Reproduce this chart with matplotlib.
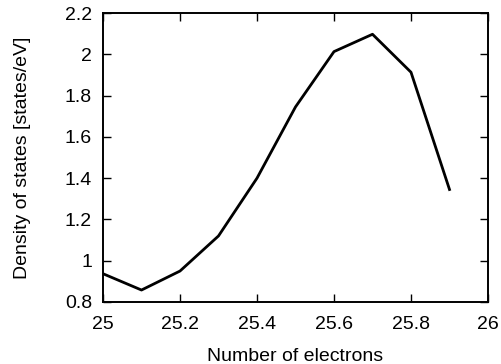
import matplotlib
matplotlib.use("Agg")
import matplotlib.pyplot as plt

plt.rcParams['font.family'] = ['Liberation Sans', 'DejaVu Sans']

electrons = [25.0, 25.1, 25.2, 25.3, 25.4, 25.5, 25.6, 25.7, 25.8, 25.9]
dos = [0.937, 0.858, 0.95, 1.12, 1.40, 1.745, 2.013, 2.097, 1.913, 1.345]
xticks = [25, 25.2, 25.4, 25.6, 25.8, 26]
xticklabels = ["25", "25.2", "25.4", "25.6", "25.8", "26"]
yticks = [0.8, 1.0, 1.2, 1.4, 1.6, 1.8, 2.0, 2.2]
yticklabels = ["0.8", "1", "1.2", "1.4", "1.6", "1.8", "2", "2.2"]

fig = plt.figure(figsize=(5.02, 3.64), dpi=100)
ax = fig.add_axes([103/502, 1-302/364, (488-103)/502, (302-13)/364])
ax.plot(electrons, dos, color='black', lw=2.0)
ax.set_xlim(25, 26)
ax.set_ylim(0.8, 2.2)
ax.set_xticks(xticks)
ax.set_xticklabels(xticklabels)
ax.set_yticks(yticks)
ax.set_yticklabels(yticklabels)
ax.tick_params(direction='in', length=6, width=1.0, top=True, right=True,
               labelsize=14, colors='black')
ax.tick_params(axis='x', pad=10)
ax.tick_params(axis='y', pad=8)
for s in ax.spines.values():
    s.set_linewidth(1.4)
ax.set_xlabel("Number of electrons", fontsize=14, labelpad=11)
ax.set_ylabel("Density of states [states/eV]", fontsize=14, labelpad=24)
fig.savefig("out.png", dpi=100)
